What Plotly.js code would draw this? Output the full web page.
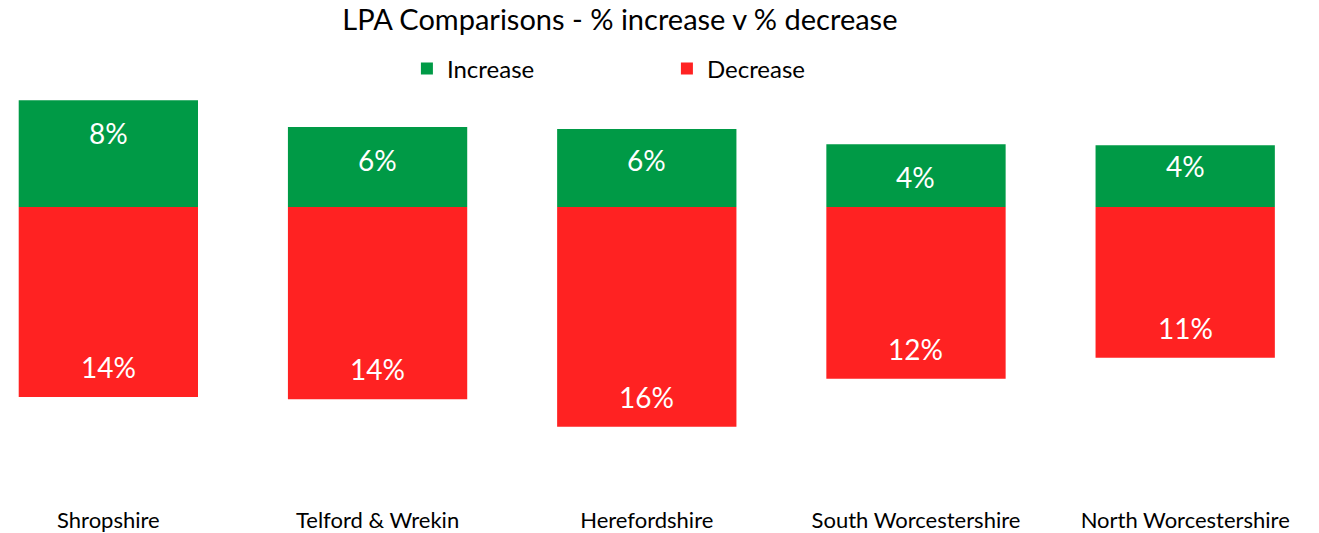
<!DOCTYPE html>
<html>
<head>
<meta charset="utf-8">
<script src="https://cdn.plot.ly/plotly-3.0.1.min.js"></script>
<style>html,body{margin:0;padding:0;background:#fff;}#chart{width:1319px;height:533px;}</style>
</head>
<body>
<div id="chart"></div>
<script>
// Data (percent)
const categories = ['Shropshire', 'Telford & Wrekin', 'Herefordshire', 'South Worcestershire', 'North Worcestershire'];
const increaseValues = [7.6, 5.7, 5.56, 4.48, 4.4];
const decreaseValues = [13.54, 13.71, 15.66, 12.24, 10.74];

// Styling
const FONT = 'Lato, "Open Sans", sans-serif';
const GREEN = '#009a46';
const RED = '#ff2222';
const incLabelShift = [-33, -33, -31, -33, -21];
const decLabelShift = 30;

const traces = [
  {
    type: 'bar', name: 'Increase', x: categories, y: increaseValues,
    marker: {color: GREEN}, width: 0.666, hoverinfo: 'skip'
  },
  {
    type: 'bar', name: 'Decrease', x: categories, y: decreaseValues.map(v => -v),
    marker: {color: RED}, width: 0.666, hoverinfo: 'skip'
  }
];

const annotations = [];
categories.forEach((c, i) => {
  annotations.push({
    x: c, y: increaseValues[i], xref: 'x', yref: 'y',
    text: Math.round(increaseValues[i]) + '%', showarrow: false,
    yanchor: 'middle', yshift: incLabelShift[i],
    font: {family: FONT, size: 28, color: '#ffffff'}
  });
  annotations.push({
    x: c, y: -decreaseValues[i], xref: 'x', yref: 'y',
    text: Math.round(decreaseValues[i]) + '%', showarrow: false,
    yanchor: 'middle', yshift: decLabelShift,
    font: {family: FONT, size: 28, color: '#ffffff'}
  });
});

const layout = {
  width: 1319, height: 533,
  margin: {l: 0, r: 0, t: 90, b: 28},
  paper_bgcolor: '#ffffff', plot_bgcolor: '#ffffff',
  barmode: 'relative',
  font: {family: FONT, color: '#000000'},
  title: {
    text: 'LPA Comparisons - % increase v % decrease',
    x: 0.470, xanchor: 'center', xref: 'paper',
    y: 1 - 20 / 533, yanchor: 'middle', yref: 'container',
    font: {family: FONT, size: 29, color: '#000000'}
  },
  showlegend: true,
  legend: {
    orientation: 'h', x: 0.3085, xanchor: 'left', y: 1.0506, yanchor: 'middle',
    entrywidth: 215, entrywidthmode: 'pixels',
    font: {family: FONT, size: 24, color: '#000000'},
    bgcolor: 'rgba(0,0,0,0)', traceorder: 'normal'
  },
  xaxis: {
    range: [-0.4025, 4.497], showgrid: false, zeroline: false, showline: false,
    ticks: '', tickfont: {family: FONT, size: 22, color: '#000000'}, fixedrange: true
  },
  yaxis: {
    range: [-21.24, 8.339], showgrid: false, zeroline: false, showline: false,
    showticklabels: false, ticks: '', fixedrange: true
  },
  annotations: annotations
};

Plotly.newPlot('chart', traces, layout, {displayModeBar: false, staticPlot: true});
</script>
</body>
</html>
